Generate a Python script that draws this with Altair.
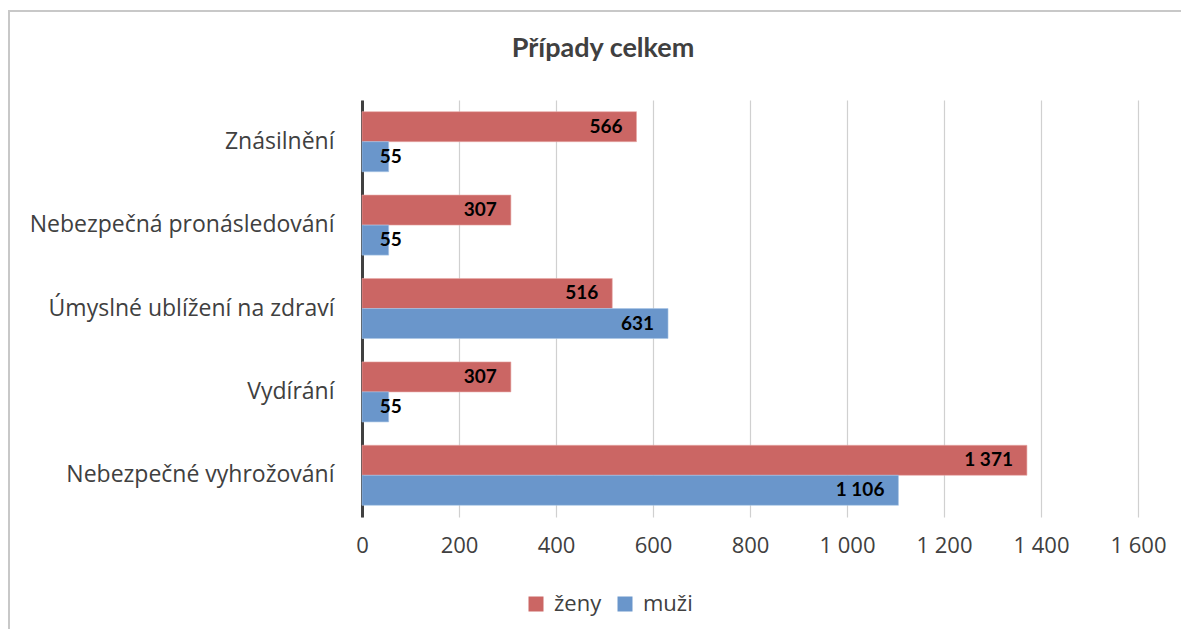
import altair as alt
import pandas as pd

categories = ["Znásilnění", "Nebezpečná pronásledování ", "Úmyslné ublížení na zdraví",
              "Vydírání", "Nebezpečné vyhrožování "]
zeny = [566, 307, 516, 307, 1371]
muzi = [55, 55, 631, 55, 1106]
series = ["ženy", "muži"]
colors = ["#CB6664", "#6A96CB"]
x_ticks = [0, 200, 400, 600, 800, 1000, 1200, 1400, 1600]
title_text = "Případy celkem"

rows = []
for c, z, m in zip(categories, zeny, muzi):
    rows.append({"kat": c, "pohlavi": "ženy", "hodnota": z})
    rows.append({"kat": c, "pohlavi": "muži", "hodnota": m})
df = pd.DataFrame(rows)
# label anchor: inside end of the bar, but never closer to the axis than a short bar allows
df["pos"] = df["hodnota"].clip(lower=111)

FONT = "Open Sans"
BFONT = "Lato"
GRAY = "#404040"

y_enc = alt.Y("kat:N", sort=categories, title=None,
              scale=alt.Scale(paddingInner=0.28, paddingOuter=0.14),
              axis=alt.Axis(labelFontSize=23, labelColor=GRAY, labelFont=FONT,
                            labelPadding=28, ticks=False, domain=True,
                            domainColor=GRAY, domainWidth=3, grid=False,
                            labelLimit=400))
yoff = alt.YOffset("pohlavi:N", sort=series)
x_scale = alt.Scale(domain=[0, 1600], nice=False)

base = alt.Chart(df)

bars = base.mark_bar(strokeWidth=1, strokeOpacity=0.6).encode(
    x=alt.X("hodnota:Q", scale=x_scale, title=None, stack=None,
            axis=alt.Axis(values=x_ticks, format=",d", labelFontSize=22,
                          labelColor=GRAY, labelFont=FONT, labelPadding=18,
                          labelFlush=False,
                          ticks=False, domain=False, grid=True,
                          gridColor="#D0D0D0", gridWidth=1.2)),
    y=y_enc,
    yOffset=yoff,
    color=alt.Color("pohlavi:N", sort=series,
                    scale=alt.Scale(domain=series, range=colors),
                    legend=alt.Legend(title=None, orient="none", direction="horizontal",
                                      legendX=163, legendY=493, symbolType="square",
                                      symbolSize=225, symbolStrokeWidth=0,
                                      labelFontSize=22, labelColor=GRAY, labelFont=FONT,
                                      columnPadding=12, labelOffset=7)),
    stroke=alt.Stroke("pohlavi:N", sort=series,
                      scale=alt.Scale(domain=series, range=["#E8A8A6", "#A9C4E6"]),
                      legend=None),
)

labels = base.mark_text(align="right", baseline="middle", dx=-14, fontSize=19,
                        fontWeight="bold", font=BFONT, color="#000000").encode(
    x=alt.X("pos:Q", scale=x_scale, title=None, stack=None),
    y=alt.Y("kat:N", sort=categories, title=None),
    yOffset=yoff,
    text=alt.Text("hodnota:Q", format=",d"),
)

title = alt.Chart(pd.DataFrame({"t": [title_text]})).mark_text(
    fontSize=27, font=BFONT, fontWeight="bold", color=GRAY,
    align="center", baseline="middle").encode(
    text="t:N", x=alt.value(241), y=alt.value(-51))

frame_top = base.mark_rule(color="#C8C8C8", strokeWidth=2).encode(
    x=alt.value(-354), x2=alt.value(850), y=alt.value(-89))
frame_left = base.mark_rule(color="#C8C8C8", strokeWidth=2).encode(
    x=alt.value(-353), y=alt.value(-90), y2=alt.value(540))

chart = alt.layer(bars, labels, title, frame_top, frame_left).properties(
    width=776, height=417,
    autosize=alt.AutoSizeParams(type="none"),
    padding={"left": 354, "top": 92, "right": 43, "bottom": 112},
).configure_view(stroke=None)

chart.save("out.html", embed_options={
    "renderer": "svg", "actions": False,
    "formatLocale": {"decimal": ",", "thousands": " ", "grouping": [3],
                     "currency": ["", " Kč"]},
})
